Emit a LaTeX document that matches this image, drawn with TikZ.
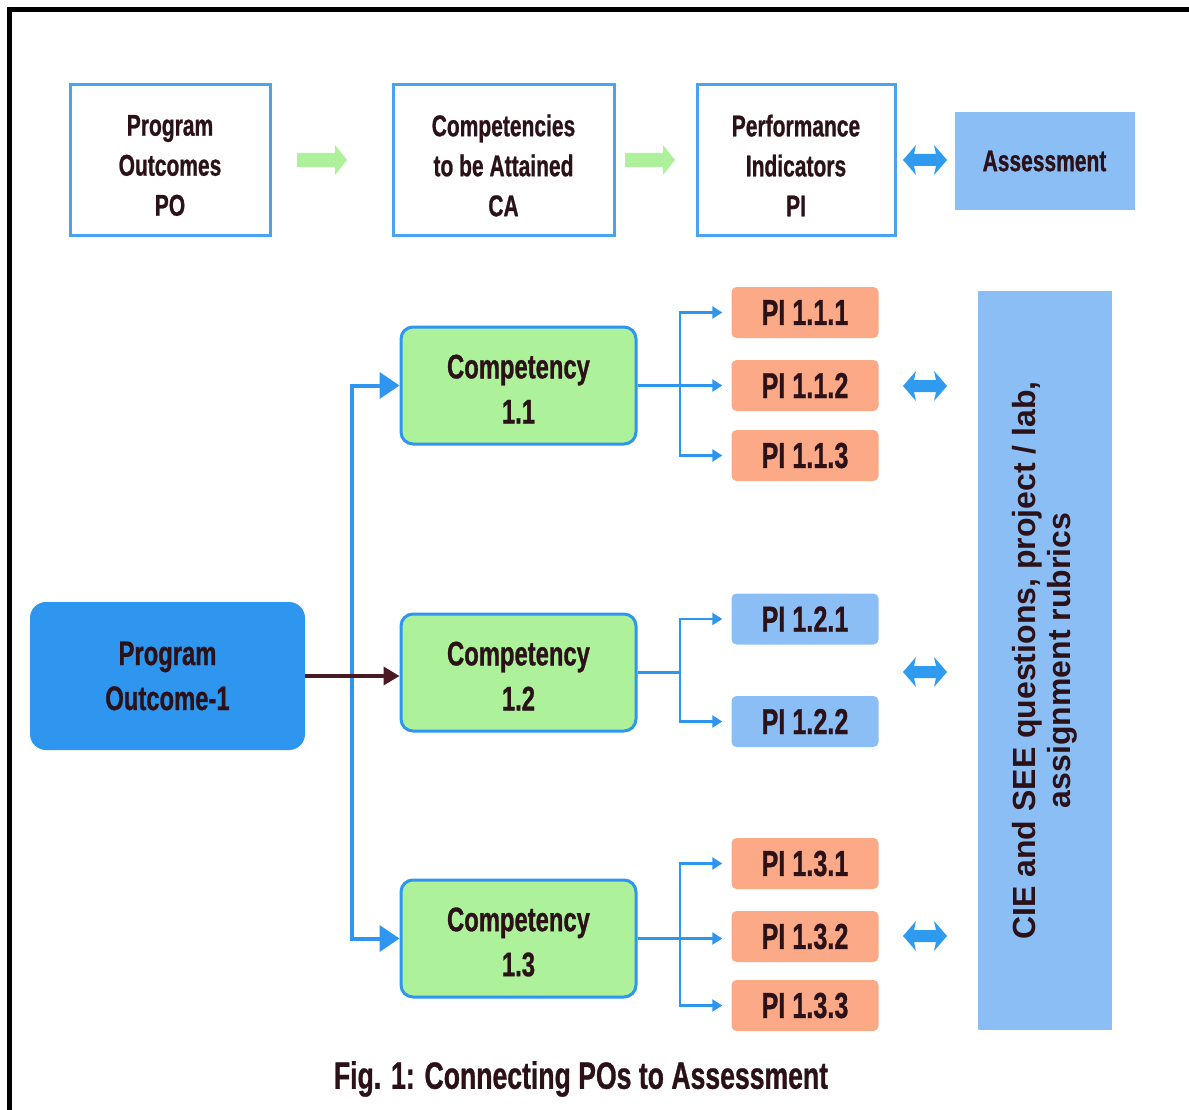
\documentclass[tikz,border=0pt]{standalone}
\usepackage{fontspec}
\setmainfont{Liberation Sans}[FakeStretch=0.7, BoldFeatures={FakeBold=0.8}]
\newfontfamily\widefont{Liberation Sans}
\usetikzlibrary{arrows.meta}
\definecolor{textc}{HTML}{2B1118}
\definecolor{lineblue}{HTML}{4AA3F0}
\definecolor{midblue}{HTML}{2E96EE}
\definecolor{lightblue}{HTML}{8CBEF6}
\definecolor{greenc}{HTML}{ADF19B}
\definecolor{salmon}{HTML}{FBA987}
\definecolor{maroon}{HTML}{4A1A24}
\definecolor{dblblue}{HTML}{2E9BF0}
\tikzset{
  every node/.style={text=textc, inner sep=0pt, align=center},
  topbox/.style={draw=lineblue, line width=3pt, fill=white, minimum width=200, minimum height=151},
  toptext/.style={font=\bfseries\fontsize{30}{40}\selectfont},
  assessbox/.style={fill=lightblue, minimum width=180, minimum height=98,
    font=\bfseries\fontsize{30}{40}\selectfont},
  pobox/.style={fill=midblue, rounded corners=16pt, minimum width=275, minimum height=148,
    font=\bfseries\fontsize{34}{45}\selectfont},
  compbox/.style={draw=midblue, line width=3pt, fill=greenc, rounded corners=12pt,
    minimum width=235, minimum height=117},
  comptext/.style={font=\bfseries\fontsize{34}{45}\selectfont},
  pibox/.style={rounded corners=5pt, minimum width=147, minimum height=51,
    font=\bfseries\fontsize{36}{40}\selectfont},
  pio/.style={pibox, fill=salmon},
  pib/.style={pibox, fill=lightblue},
  bigbox/.style={fill=lightblue, minimum width=739, minimum height=134, rotate=90,
    font=\widefont\bfseries\fontsize{32}{35}\selectfont},
  bus/.style={draw=midblue, line width=4pt, -{Triangle[length=20pt,width=26pt]}},
  branch/.style={draw=midblue, line width=2.2pt, -{Triangle[length=10pt,width=12pt]}, shorten >=9pt},
  fatarrow/.pic={\fill[greenc] (-25,-7) -- (13,-7) -- (13,-15) -- (25,0) -- (13,15) -- (13,7) -- (-25,7) -- cycle;},
  dblarrow/.pic={\fill[dblblue] (-22,0) -- (-9,-15) -- (-11,-6) -- (11,-6) -- (9,-15) -- (22,0) -- (9,15) -- (11,6) -- (-11,6) -- (-9,15) -- cycle;}
}
\begin{document}
\begin{tikzpicture}[x=1pt,y=-1pt]
\useasboundingbox (0,0) rectangle (1189,1110);
\fill[white] (0,0) rectangle (1189,1110);
\draw[line width=5pt] (9.5,1110) -- (9.5,9.5) -- (1189,9.5);

% top row
\node[topbox] (po) at (170,160.5) {};
\node[toptext] (po-t) at ([yshift=-5pt]po.center) {Program\\Outcomes\\PO};
\node[topbox, minimum width=221] (ca) at (503.5,160.5) {};
\node[toptext] (ca-t) at ([yshift=-5pt]ca.center) {Competencies\\to be Attained\\CA};
\node[topbox, minimum width=198] (pi) at (796,160.5) {};
\node[toptext] (pi-t) at ([yshift=-5pt]pi.center) {Performance\\Indicators\\PI};
\node[assessbox] (as) at (1044.5,161) {Assessment};
\pic at (322,160) {fatarrow};
\pic at (650,160) {fatarrow};
\pic at (925,160) {dblarrow};

% program outcome
\node[pobox] (po1) at (167.5,676) {Program\\Outcome-1};

% competencies
\node[compbox] (c11) at (518.5,385.5) {};
\node[comptext] (c11-t) at ([yshift=-3.5pt]c11.center) {Competency\\1.1};
\node[compbox] (c12) at (518.5,672.5) {};
\node[comptext] (c12-t) at ([yshift=-3.5pt]c12.center) {Competency\\1.2};
\node[compbox] (c13) at (518.5,938.5) {};
\node[comptext] (c13-t) at ([yshift=-3.5pt]c13.center) {Competency\\1.3};

% PIs
\node[pio] (p111) at (805,312.5) {PI 1.1.1};
\node[pio] (p112) at (805,385.5) {PI 1.1.2};
\node[pio] (p113) at (805,455.5) {PI 1.1.3};
\node[pib] (p121) at (805,619) {PI 1.2.1};
\node[pib] (p122) at (805,721.5) {PI 1.2.2};
\node[pio] (p131) at (805,863.5) {PI 1.3.1};
\node[pio] (p132) at (805,936.5) {PI 1.3.2};
\node[pio] (p133) at (805,1005.5) {PI 1.3.3};

% big assessment box
\node[bigbox] (cie) at (1045,660.5) {CIE and SEE questions, project / lab,\\assignment rubrics};

% bus connectors
\coordinate (busx) at (352,676);
\draw[bus] (busx) |- (c11.west);
\draw[bus] (busx) |- (c13.west);
\draw[draw=maroon, line width=3.5pt, -{Triangle[length=16pt,width=18pt]}] (po1.east) -- (po1.east -| c12.west);

% branches
\coordinate (jx) at (680,0);
\draw[branch] (c11.east) -- (c11.east -| p112.west);
\draw[branch] (c11.east -| jx) |- (p111.west);
\draw[branch] (c11.east -| jx) |- (p113.west);
\draw[draw=midblue, line width=2.2pt] (c12.east) -- (c12.east -| jx);
\draw[branch] (c12.east -| jx) |- (p121.west);
\draw[branch] (c12.east -| jx) |- (p122.west);
\draw[branch] (c13.east) -- (c13.east -| p132.west);
\draw[branch] (c13.east -| jx) |- (p131.west);
\draw[branch] (c13.east -| jx) |- (p133.west);

% double arrows
\pic at (925,386) {dblarrow};
\pic at (925,672) {dblarrow};
\pic at (925,936) {dblarrow};

% caption
\node[font=\bfseries\fontsize{38}{40}\selectfont] (cap) at (581,1079) {Fig. 1: Connecting POs to Assessment};
\end{tikzpicture}
\end{document}
